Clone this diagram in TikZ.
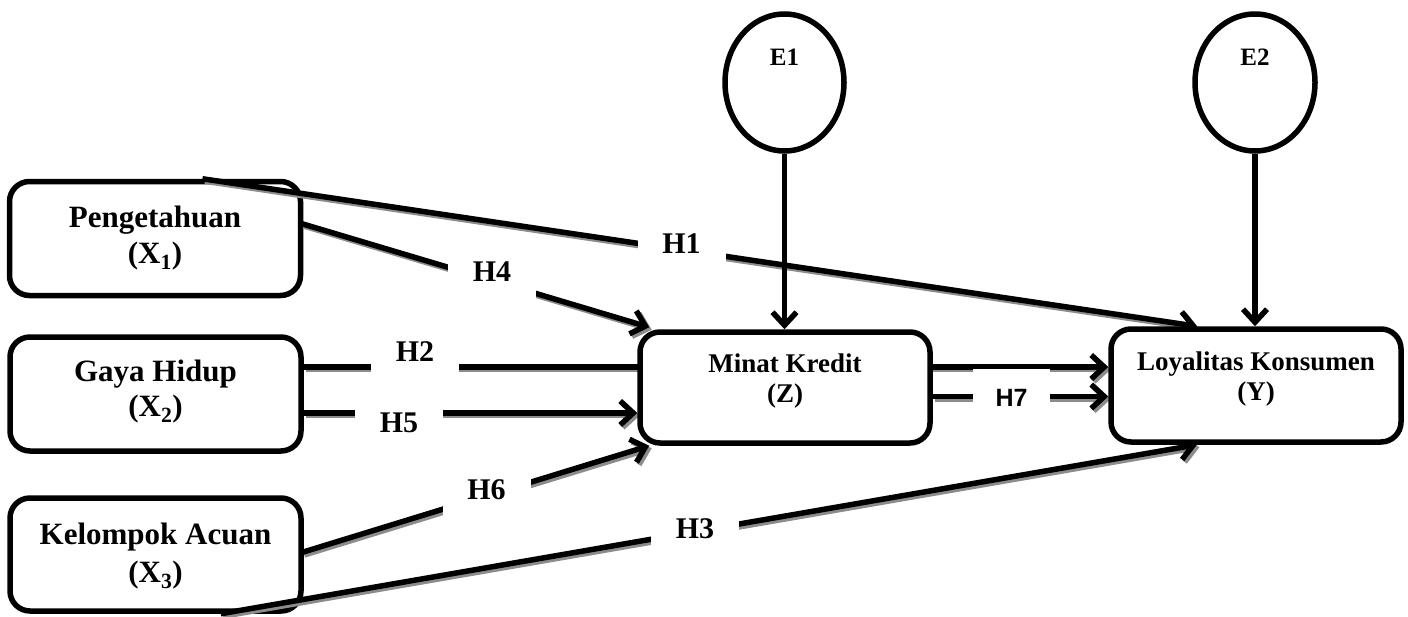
\documentclass[tikz,border=0pt]{standalone}
\usepackage{fontspec}
\setmainfont{Liberation Serif}
\newfontfamily\arialf{Liberation Sans}
\usetikzlibrary{arrows.meta,shapes.geometric,calc}
\pgfdeclarelayer{back}
\pgfdeclarelayer{lines}
\pgfsetlayers{back,lines,main}
\begin{document}
\begin{tikzpicture}[x=1pt,y=-1pt,
  box/.style={draw, line width=5.5pt, rounded corners=20pt, fill=white, inner sep=0pt},
  xbox/.style={box, minimum width=291pt, minimum height=114pt},
  zbox/.style={box, minimum width=290pt, minimum height=112pt},
  xlab/.style={align=center, inner sep=0pt, font=\fontsize{31}{#1}\selectfont\bfseries},
  zlab/.style={align=center, inner sep=0pt, font=\fontsize{27}{30}\selectfont\bfseries},
  err/.style={draw, ellipse, line width=5.5pt, fill=white, minimum width=119pt, minimum height=137pt, inner sep=0pt},
  elab/.style={inner sep=0pt, yshift=25pt, font=\fontsize{25}{25}\selectfont\bfseries},
  tip/.style={line width=5.5pt, -{Straight Barb[length=13pt,width=24pt]}},
  dropshadow/.style={preaction={draw=black!45, line width=5.5pt, transform canvas={shift={(2.5pt,-2.5pt)}}}},
  conn/.style={tip, dropshadow},
  hlab/.style={fill=white, minimum width=88pt, minimum height=58pt, inner sep=0pt, font=\fontsize{30}{30}\selectfont\bfseries},
]
\useasboundingbox (0,0) rectangle (1408,616);

% latent variables
\begin{pgfonlayer}{back}
\node[xbox, label={[xlab=36, yshift=0pt]center:{Pengetahuan\\(X\textsubscript{1})}}] (X1) at (155,238.5) {};
\node[xbox, label={[xlab=35, yshift=2pt]center:{Gaya Hidup\\(X\textsubscript{2})}}] (X2) at (155.5,394) {};
\node[xbox, minimum height=113pt, label={[xlab=38, yshift=-1.5pt]center:{Kelompok Acuan\\(X\textsubscript{3})}}] (X3) at (155.5,554.5) {};
\end{pgfonlayer}
\node[zbox, minimum height=111pt, label={[zlab, yshift=6.5pt]center:{Minat Kredit\\(Z)}}] (Z) at (785,387.5) {};
\node[zbox, minimum height=113pt, label={[zlab, yshift=6.5pt]center:{Loyalitas Konsumen\\(Y)}}] (Y) at (1256,385.5) {};
\node[err, label={[elab]center:E1}] (E1) at (784.5,82.5) {};
\node[err, minimum width=120pt, label={[elab]center:E2}] (E2) at (1255,82.5) {};

% connector end points
\coordinate (h1s) at ($(X1.north west)!0.66!(X1.north east)$);
\coordinate (h1e) at ($(Y.north west)!0.3!(Y.north east)$);
\coordinate (h4s) at ($(X1.east)+(-2,-15)$);
\coordinate (h4e) at ($(Z.north west)+(12,-2)$);
\coordinate (h2s) at ($(X2.east)+(0,-27)$);
\coordinate (h5s) at ($(X2.east)+(0,19)$);
\coordinate (h6s) at ($(X3.east)+(-2,-2)$);
\coordinate (h6e) at ($(Z.south west)+(12,0)$);
\coordinate (h3s) at ($(X3.south west)!0.72!(X3.south east)$);
\coordinate (h3e) at ($(Y.south west)!0.3!(Y.south east)$);
\coordinate (h7s) at ($(Z.east)+(0,9)$);

\begin{pgfonlayer}{lines}
\draw[conn] (h1s) -- (h1e);
\draw[conn] (h4s) -- (h4e);
\draw[conn] (h2s) -- (h2s -| Y.west);
\draw[conn] (h5s) -- (h5s -| Z.west);
\draw[conn] (h6s) -- (h6e);
\draw[conn] (h3s) -- (h3e);
\draw[conn] (h7s) -- (h7s -| Y.west);
\end{pgfonlayer}
\draw[tip] (E1.south) -- (E1.south |- Z.north);
\draw[tip] (E2.south) -- (E2.south |- Y.north);

% hypothesis labels
\node[hlab] (H1) at (681.5,244) {H1};
\node[hlab] (H4) at (492,272) {H4};
\node[hlab] (H2) at (415,352) {H2};
\node[hlab] (H5) at (399,423) {H5};
\node[hlab] (H6) at (486.5,490) {H6};
\node[hlab] (H3) at (695,528.5) {H3};
\node[hlab, minimum width=77pt, font=\arialf\fontsize{25}{25}\selectfont\bfseries] (H7) at (1011.5,397.5) {H7};
\end{tikzpicture}
\end{document}
